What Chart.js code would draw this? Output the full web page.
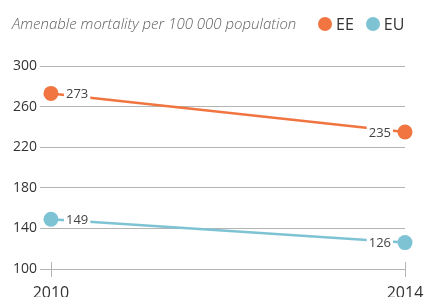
<!DOCTYPE html>
<html>
<head>
<meta charset="utf-8">
<script src="https://cdn.jsdelivr.net/npm/chart.js@4.4.1/dist/chart.umd.min.js"></script>
<style>
  html, body { margin: 0; padding: 0; background: #fff; overflow: hidden; }
  .wrap { position: relative; width: 425px; height: 297px; }
  .head { position: absolute; left: 0; top: 0; width: 425px; height: 48px; font-family: 'Open Sans', sans-serif; }
  .title { position: absolute; left: 12px; top: 13px; font-size: 15px; font-style: italic; font-weight: 300; color: #606060; }
  .legend { position: absolute; left: 318px; top: 13px; font-size: 16px; color: #333; display: flex; align-items: center; }
  .legend i { display: inline-block; width: 14px; height: 14px; border-radius: 50%; margin-right: 4px; }
  .legend span { margin-right: 12px; }
</style>
</head>
<body>
<div class="wrap">
  <canvas id="chart" width="425" height="300"></canvas>
  <div class="head">
    <div class="title">Amenable mortality per 100 000 population</div>
    <div class="legend"><i style="background:#f07541"></i><span>EE</span><i style="background:#7dc3d4"></i><span>EU</span></div>
  </div>
</div>
<script>
const years = [2010, 2014];
const eeValues = [273, 235];
const euValues = [149, 126];
const yTicks = [100, 140, 180, 220, 260, 300];

const orange = '#f07541';
const blue = '#7dc3d4';

// value labels sit next to the end dots, with a white box cutting the line
const valueLabels = {
  id: 'valueLabels',
  afterDatasetsDraw(chart) {
    const ctx = chart.ctx;
    ctx.save();
    ctx.font = '13px "Open Sans"';
    ctx.textBaseline = 'middle';
    chart.data.datasets.forEach((ds, i) => {
      const meta = chart.getDatasetMeta(i);
      meta.data.forEach((pt, j) => {
        const txt = String(ds.data[j].y);
        const w = ctx.measureText(txt).width;
        const first = j === 0;
        const x = first ? pt.x + 15 : pt.x - 14 - w;
        ctx.fillStyle = '#fff';
        ctx.fillRect(x - 2, pt.y - 8, w + 4, 16);
        ctx.fillStyle = '#444';
        ctx.textAlign = 'left';
        ctx.fillText(txt, x, pt.y + 1);
      });
    });
    ctx.restore();
  }
};

// small cross ticks on the baseline at each year
const crossTicks = {
  id: 'crossTicks',
  beforeDatasetsDraw(chart) {
    const ctx = chart.ctx, x = chart.scales.x, y = chart.scales.y;
    const base = y.getPixelForValue(100);
    ctx.save();
    ctx.strokeStyle = '#b4b4b4';
    ctx.lineWidth = 1;
    years.forEach((yr) => {
      const px = Math.round(x.getPixelForValue(yr)) + 0.5;
      ctx.beginPath();
      ctx.moveTo(px, base - 7);
      ctx.lineTo(px, base + 8);
      ctx.stroke();
    });
    ctx.restore();
  }
};

new Chart(document.getElementById('chart'), {
  type: 'line',
  data: {
    datasets: [
      { label: 'EE', data: years.map((x, i) => ({ x, y: eeValues[i] })), borderColor: orange, backgroundColor: orange, borderWidth: 2.5, pointRadius: 7.5, pointHoverRadius: 7.5, pointBorderWidth: 0, clip: false },
      { label: 'EU', data: years.map((x, i) => ({ x, y: euValues[i] })), borderColor: blue, backgroundColor: blue, borderWidth: 2.5, pointRadius: 7.5, pointHoverRadius: 7.5, pointBorderWidth: 0, clip: false }
    ]
  },
  options: {
    responsive: false,
    animation: false,
    layout: { padding: { top: 66, right: 20, left: 0, bottom: 0 } },
    plugins: { legend: { display: false }, tooltip: { enabled: false } },
    scales: {
      x: {
        type: 'linear', min: 2009.876, max: 2014,
        afterBuildTicks: (s) => { s.ticks = years.map((v) => ({ value: v })); },
        afterFit: (s) => { s.height = 31; s.paddingLeft = 0; s.paddingRight = 0; },
        grid: { display: false },
        border: { display: false },
        ticks: { padding: 7, color: '#333', font: { family: 'Open Sans', size: 16 }, callback: (v) => String(v) }
      },
      y: {
        min: 100, max: 300,
        afterBuildTicks: (s) => { s.ticks = yTicks.map((v) => ({ value: v })); },
        afterFit: (s) => { s.width = 40; },
        grid: { color: '#b4b4b4', lineWidth: 1, drawTicks: false },
        border: { display: false },
        ticks: { padding: 3, color: '#333', font: { family: 'Open Sans', size: 14 } }
      }
    }
  },
  plugins: [valueLabels, crossTicks]
});
</script>
</body>
</html>
